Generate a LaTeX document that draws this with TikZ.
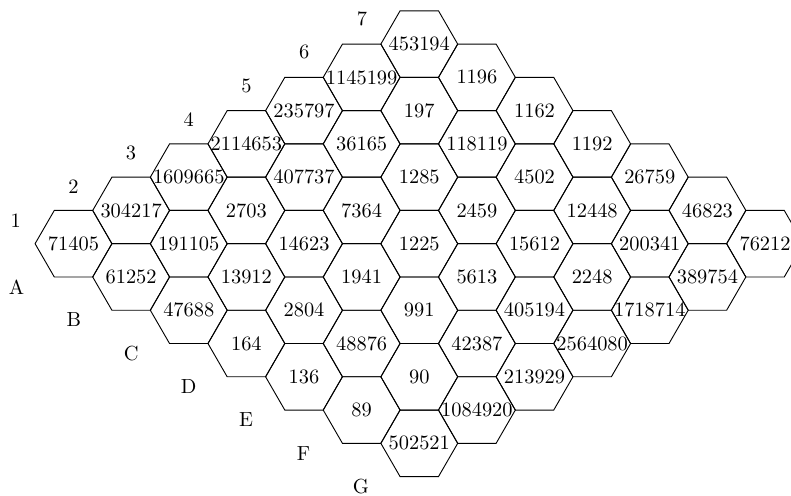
\documentclass[tikz,border=0pt]{standalone}
\begin{document}
\begin{tikzpicture}[x=0.49pt,y=-0.49pt,
  hexline/.style={draw=black, line width=0.45pt},
  cellnum/.style={inner sep=0pt},
  axislabel/.style={inner sep=0pt}]
\useasboundingbox (0,0) rectangle (791,495);
\def\R{38.42}
\def\H{33.27}
\foreach \row [count=\j from 0] in {
  {71405,304217,1609665,2114653,235797,1145199,453194},
  {61252,191105,2703,407737,36165,197,1196},
  {47688,13912,14623,7364,1285,118119,1162},
  {164,2804,1941,1225,2459,4502,1192},
  {136,48876,991,5613,15612,12448,26759},
  {89,90,42387,405194,2248,200341,46823},
  {502521,1084920,213929,2564080,1718714,389754,76212}} {
  \foreach \v [count=\i from 0] in \row {
    \pgfmathsetmacro\cx{73.5+57.63*(\i+\j)}
    \pgfmathsetmacro\cy{243.7-33.27*\i+33.27*\j}
    \draw[hexline, shift={(\cx,\cy)}] (-\R,0) -- (-\R/2,-\H) -- (\R/2,-\H) -- (\R,0) -- (\R/2,\H) -- (-\R/2,\H) -- cycle;
    \node[cellnum] (cell-\i-\j) at (\cx,\cy) {\v};
  }
}
\foreach \t [count=\k from 0] in {1,2,3,4,5,6,7} {
  \pgfmathsetmacro\lx{15.7+57.7*\k}
  \pgfmathsetmacro\ly{220.7-33.7*\k}
  \node[axislabel] (lab-\t) at (\lx,\ly) {\t};
}
\foreach \t [count=\k from 0] in {A,B,C,D,E,F,G} {
  \pgfmathsetmacro\lx{16.5+57.4*\k}
  \pgfmathsetmacro\ly{286.7+33.3*\k}
  \node[axislabel] (lab-\t) at (\lx,\ly) {\t};
}
\end{tikzpicture}
\end{document}
